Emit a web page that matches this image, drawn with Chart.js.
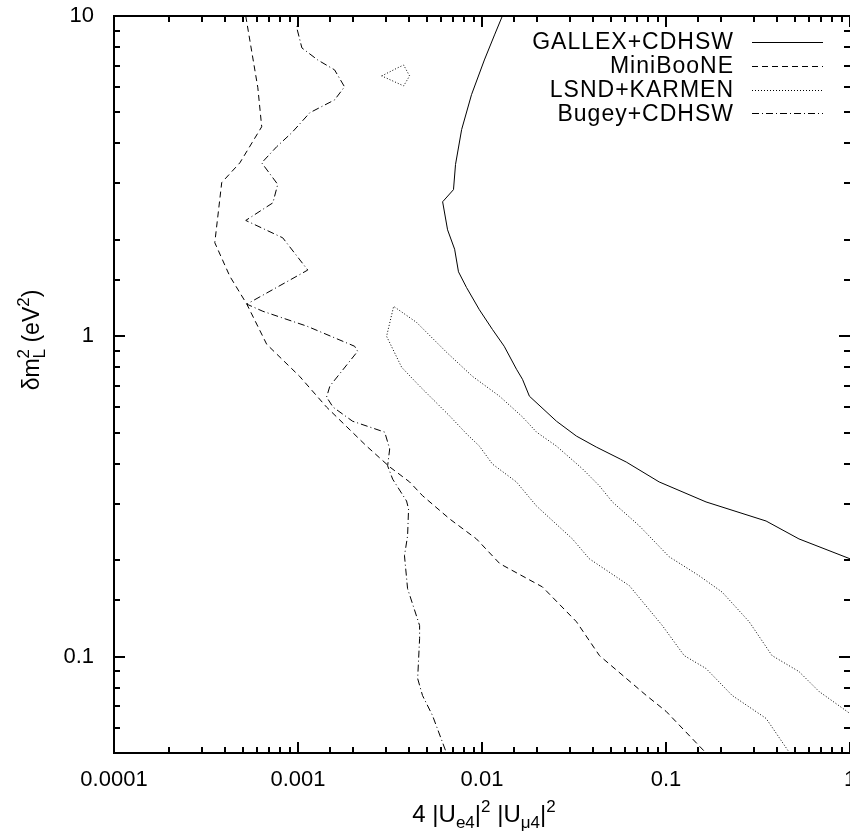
<!DOCTYPE html>
<html lang="en">
<head>
<meta charset="UTF-8" />
<title>Exclusion curves</title>
<script src="https://cdn.jsdelivr.net/npm/chart.js"></script>
<style>
  html, body { margin: 0; padding: 0; background: #fff; }
</style>
</head>
<body>
<canvas id="chart" width="850" height="836"></canvas>
<script>
// x: 4|Ue4|^2 |Umu4|^2, y: delta m^2 (eV^2)
const gallexX = [0.0129, 0.0117, 0.0103, 0.00877, 0.00775, 0.00718, 0.0070, 0.00611, 0.0065, 0.0071, 0.00745, 0.00824, 0.00968, 0.0114, 0.0132, 0.0154, 0.0166, 0.0181, 0.0254, 0.0326, 0.0418, 0.0608, 0.0918, 0.165, 0.350, 0.528, 1.0];
const gallexY = [10, 8.73, 7.29, 5.68, 4.42, 3.44, 2.87, 2.63, 2.15, 1.87, 1.59, 1.42, 1.21, 1.05, 0.931, 0.789, 0.734, 0.650, 0.543, 0.488, 0.451, 0.405, 0.351, 0.304, 0.265, 0.233, 0.202];

const miniX = [0.00052, 0.000605, 0.000635, 0.000483, 0.000385, 0.000353, 0.000426, 0.000527, 0.000676, 0.00102, 0.00143, 0.00236, 0.00315, 0.00404, 0.00475, 0.00667, 0.00933, 0.0125, 0.0213, 0.0326, 0.0435, 0.0782, 0.100, 0.165];
const miniY = [10, 5.97, 4.51, 3.48, 3.02, 1.96, 1.54, 1.26, 0.944, 0.750, 0.601, 0.454, 0.391, 0.351, 0.318, 0.269, 0.233, 0.195, 0.165, 0.1285, 0.1007, 0.0756, 0.0675, 0.05];

// band: lower edge from the bottom up to the tip, then the upper edge out to the right
const lsndX = [0.47, 0.350, 0.229, 0.165, 0.1256, 0.0955, 0.0632, 0.0383, 0.031, 0.0198, 0.01538, 0.0114, 0.00968, 0.00824, 0.00667, 0.00458, 0.00366, 0.00303, 0.00331, 0.00441, 0.00641, 0.00887, 0.01245, 0.0166, 0.0198, 0.0254, 0.0351, 0.0435, 0.0511, 0.0716, 0.104, 0.151, 0.2018, 0.283, 0.377, 0.528, 0.679, 1.0];
const lsndY = [0.05, 0.0641, 0.0756, 0.0918, 0.1007, 0.125, 0.1665, 0.202, 0.233, 0.295, 0.351, 0.399, 0.454, 0.496, 0.564, 0.699, 0.80, 1.0, 1.24, 1.105, 0.892, 0.750, 0.650, 0.560, 0.502, 0.454, 0.386, 0.341, 0.304, 0.256, 0.205, 0.179, 0.159, 0.1285, 0.1007, 0.0898, 0.0778, 0.0664];
// small island near the top
const lsndIslandX = [0.00285, 0.00348, 0.00375, 0.00404, 0.00375, 0.00285];
const lsndIslandY = [6.50, 6.89, 7.03, 6.50, 6.05, 6.50];

const bugeyX = [0.00101, 0.000985, 0.00105, 0.00128, 0.00158, 0.00179, 0.00158, 0.00116, 0.000925, 0.000767, 0.000635, 0.000776, 0.00073, 0.00052, 0.000826, 0.00113, 0.000527, 0.000644, 0.00112, 0.00203, 0.00211, 0.00149, 0.00143, 0.00155, 0.00198, 0.00296, 0.00315, 0.00307, 0.00327, 0.00389, 0.00399, 0.00394, 0.00379, 0.00394, 0.00458, 0.00458, 0.00447, 0.00475, 0.00538, 0.00641];
const bugeyY = [10, 9.18, 7.95, 7.29, 6.79, 6.01, 5.47, 4.99, 4.32, 3.91, 3.48, 2.98, 2.61, 2.30, 2.03, 1.61, 1.26, 1.197, 1.075, 0.931, 0.898, 0.699, 0.646, 0.601, 0.543, 0.502, 0.445, 0.394, 0.358, 0.306, 0.289, 0.238, 0.2065, 0.163, 0.125, 0.1138, 0.0854, 0.0756, 0.0655, 0.05];

const seriesLabels = ["GALLEX+CDHSW", "MiniBooNE", "LSND+KARMEN", "Bugey+CDHSW"];
const xTickLabels = ["0.0001", "0.001", "0.01", "0.1", "1"];
const yTickLabels = ["0.1", "1", "10"];

const FONT = "'Liberation Sans', Arial, Helvetica, sans-serif";
Chart.defaults.font.family = FONT;
Chart.defaults.color = "#000";

const pts = (xs, ys) => xs.map((x, i) => ({ x: x, y: ys[i] }));
const isDecade = (v) => Math.abs(Math.log10(v) - Math.round(Math.log10(v))) < 1e-6;

function line(label, data, dash, inLegend) {
  return {
    label: label,
    data: data,
    showLine: true,
    borderColor: "#000",
    borderWidth: 1,
    borderDash: dash,
    pointRadius: 0,
    fill: false,
    tension: 0,
    inLegend: inLegend,
  };
}

// gnuplot-like frame with inward ticks on all four sides
const frameTicks = {
  id: "frameTicks",
  afterDatasetsDraw(chart) {
    const { ctx, chartArea: a, scales } = chart;
    const x = scales.x, y = scales.y;
    ctx.save();
    ctx.strokeStyle = "#000";
    ctx.lineWidth = 2;
    ctx.strokeRect(a.left, a.top, a.right - a.left + 2, a.bottom - a.top);
    ctx.beginPath();
    x.ticks.forEach((t) => {
      const px = Math.round(x.getPixelForValue(t.value));
      const len = isDecade(t.value) ? 11 : 6;
      ctx.moveTo(px, a.bottom); ctx.lineTo(px, a.bottom - len);
      ctx.moveTo(px, a.top); ctx.lineTo(px, a.top + len);
    });
    y.ticks.forEach((t) => {
      const py = Math.round(y.getPixelForValue(t.value));
      const len = isDecade(t.value) ? 11 : 6;
      ctx.moveTo(a.left, py); ctx.lineTo(a.left + len, py);
      ctx.moveTo(a.right, py); ctx.lineTo(a.right - len, py);
    });
    ctx.stroke();
    ctx.restore();
  },
};

// key in the top right corner: text right-aligned, sample to its right
const keyBox = {
  id: "keyBox",
  afterDraw(chart) {
    const ctx = chart.ctx;
    ctx.save();
    ctx.font = "23px " + FONT;
    ctx.letterSpacing = "1px";
    ctx.textAlign = "right";
    ctx.textBaseline = "middle";
    ctx.fillStyle = "#000";
    let row = 0;
    chart.data.datasets.forEach((ds) => {
      if (!ds.inLegend) return;
      const yy = 42 + row * 23.8;
      ctx.fillText(ds.label, 734, yy + 1);
      ctx.beginPath();
      ctx.setLineDash(ds.borderDash || []);
      ctx.lineWidth = 1;
      ctx.strokeStyle = "#000";
      ctx.moveTo(752, Math.round(yy) + 0.5);
      ctx.lineTo(823, Math.round(yy) + 0.5);
      ctx.stroke();
      row++;
    });
    ctx.restore();
  },
};

// axis titles with sub/superscripts
function drawPieces(ctx, pieces) {
  let total = 0;
  pieces.forEach((p) => {
    ctx.font = p.size + "px " + FONT;
    p.w = ctx.measureText(p.t).width;
    if (!p.stack) total += p.w;
  });
  let cx = -total / 2;
  pieces.forEach((p) => {
    ctx.font = p.size + "px " + FONT;
    ctx.fillText(p.t, cx, p.dy);
    if (!p.stack) cx += p.w;
  });
}

const axisTitles = {
  id: "axisTitles",
  afterDraw(chart) {
    const ctx = chart.ctx;
    ctx.save();
    ctx.fillStyle = "#000";
    ctx.textAlign = "left";
    ctx.textBaseline = "alphabetic";

    ctx.save();
    ctx.translate(484, 822);
    drawPieces(ctx, [
      { t: "4 |U", size: 24, dy: 0 },
      { t: "e4", size: 17, dy: 6 },
      { t: "|", size: 24, dy: 0 },
      { t: "2", size: 17, dy: -10 },
      { t: " |U", size: 24, dy: 0 },
      { t: "\u03bc4", size: 17, dy: 6 },
      { t: "|", size: 24, dy: 0 },
      { t: "2", size: 17, dy: -10 },
    ]);
    ctx.restore();

    ctx.save();
    ctx.translate(39, 340);
    ctx.rotate(-Math.PI / 2);
    drawPieces(ctx, [
      { t: "\u03b4m", size: 23, dy: 0 },
      { t: "2", size: 17, dy: -10, stack: true },
      { t: "L", size: 17, dy: 6 },
      { t: " (eV", size: 23, dy: 0 },
      { t: "2", size: 17, dy: -10 },
      { t: ")", size: 23, dy: 0 },
    ]);
    ctx.restore();

    ctx.restore();
  },
};

new Chart(document.getElementById("chart"), {
  type: "scatter",
  data: {
    datasets: [
      line(seriesLabels[0], pts(gallexX, gallexY), [], true),
      line(seriesLabels[1], pts(miniX, miniY), [6, 4], true),
      line(seriesLabels[2], pts(lsndX, lsndY), [1, 2], true),
      line(seriesLabels[3], pts(bugeyX, bugeyY), [7, 3, 1, 3], true),
      line(seriesLabels[2], pts(lsndIslandX, lsndIslandY), [1, 2], false),
    ],
  },
  options: {
    responsive: false,
    animation: false,
    devicePixelRatio: 1,
    layout: { padding: { top: 16, right: 0, left: 0, bottom: 0 } },
    plugins: { legend: { display: false }, tooltip: { enabled: false } },
    scales: {
      x: {
        type: "logarithmic",
        position: "bottom",
        min: 1e-4,
        max: 1,
        grid: { display: false, drawTicks: false },
        border: { display: false },
        ticks: {
          autoSkip: false,
          maxRotation: 0,
          padding: 14,
          font: { size: 22 },
          callback: (v) => (isDecade(v) ? xTickLabels[Math.round(Math.log10(v)) + 4] : ""),
        },
        afterFit(s) {
          s.height = 83;
          s.paddingLeft = 0;
          s.paddingRight = 0;
        },
      },
      y: {
        type: "logarithmic",
        position: "left",
        min: 0.05,
        max: 10,
        grid: { display: false, drawTicks: false },
        border: { display: false },
        ticks: {
          autoSkip: false,
          padding: 20,
          font: { size: 22 },
          callback: (v) => (isDecade(v) ? yTickLabels[Math.round(Math.log10(v)) + 1] : ""),
        },
        afterFit(s) {
          s.width = 114;
          s.paddingTop = 0;
          s.paddingBottom = 0;
        },
      },
    },
  },
  plugins: [frameTicks, keyBox, axisTitles],
});
</script>
</body>
</html>
